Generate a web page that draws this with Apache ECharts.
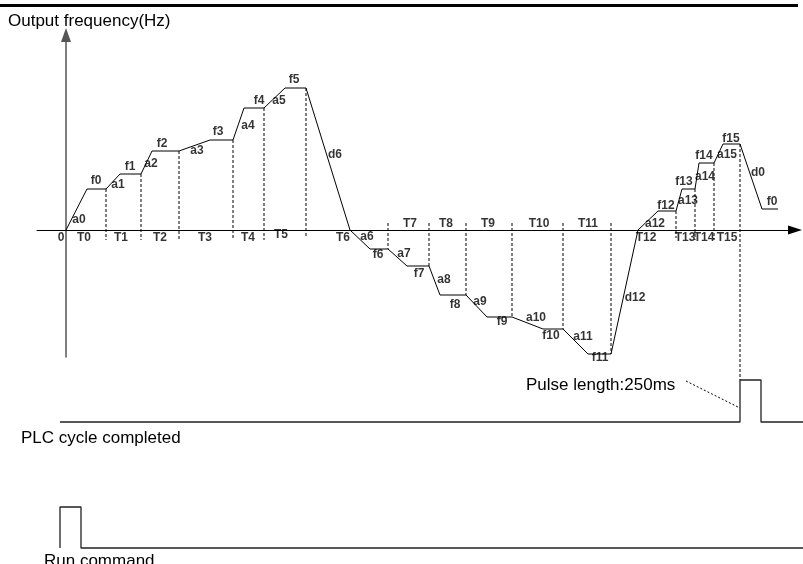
<!DOCTYPE html>
<html><head><meta charset="utf-8">
<script src="https://cdn.jsdelivr.net/npm/echarts@6/dist/echarts.min.js"></script>
<style>html,body{margin:0;padding:0;background:#fff}#c{width:803px;height:564px}</style>
</head><body><div id="c"></div>
<script>
// Output frequency profile (time units, frequency units; origin at axis crossing)
const times = [0,21,40,54,75,86,113,144,167,178,198,219,240,284,304,322,341,363,374,400,421,446,477,497,522,545,572,592,610,616,629,633,648,657,674,696,712];
const freqs = [0,41,41,56,56,79,79,90,90,122,122,142,142,0,-19,-19,-36,-36,-65,-65,-87,-87,-99,-99,-124,-124,0,19,19,41,41,67,67,86,86,21,21];

// Dashed step boundaries
const dashT      = [40,75,113,167,198,240,322,363,400,446,497,545,610,629,648,674];
const dashTop    = [41,56,79,90,122,142,7,7,7,7,7,7,19,41,67,86];
const dashBottom = [-10,-10,-10,-10,-10,-8,-19,-36,-65,-87,-99,-124,-8,-10,-10,-150];

// Segment labels
const labelText = ['0','a0','f0','a1','f1','a2','f2','a3','f3','a4','f4','a5','f5','d6',
  'T0','T1','T2','T3','T4','T5','T6','a6','f6','a7','f7','a8','f8','a9','f9','a10','f10','a11','f11','d12',
  'T7','T8','T9','T10','T11','a12','T12','f12','a13','f13','a14','f14','a15','f15','d0','f0','T13','T14','T15'];
const labelT = [-5,13,30,52,64,85,96,131,152,182,193,213,228,269,
  18,55,94,139,182,215,277,301,312,338,353,378,389,414,436,470,485,517,534,569,
  344,380,422,473,522,589,580,600,622,618,639,638,661,665,692,706,619,638,661];
const labelF = [-8,10,49,45,63,66,86,79,98,104,129,129,150,75,
  -8,-8,-8,-8,-8,-5,-8,-7,-25,-24,-44,-50,-75,-72,-92,-88,-106,-107,-128,-68,
  6,6,6,6,6,6,-8,24,29,48,53,74,75,91,57,28,-8,-8,-8];

// Digital signals (0 = low, 1 = high)
const plcT = [-6,674,674,695,695,737];
const plcV = [0,0,1,1,0,0];
const runT = [-6,-6,15,15,737];
const runV = [0,1,1,0,0];
const leaderT = [620,674];
const leaderV = [0.976,0.333];

const FONT = 'Liberation Sans';
const chart = echarts.init(document.getElementById('c'), null, {renderer:'canvas'});
const hiddenX = i => ({type:'value', gridIndex:i, min:-29, max:737, show:false});
const hiddenY = i => ({type:'value', gridIndex:i, min:0, max:1, show:false});
const zip = (a,b) => a.map((v,i)=>[v,b[i]]);

const series = [];
dashT.forEach((t,i)=>{
  series.push({type:'line', xAxisIndex:0, yAxisIndex:0, clip:false, symbol:'none', silent:true,
    data:[[t,dashTop[i]],[t,dashBottom[i]]],
    lineStyle:{color:'#000', width:1, type:[3,2]}, z:1});
});
series.push({type:'line', xAxisIndex:0, yAxisIndex:0, clip:false, symbol:'none', silent:true,
  data: zip(times,freqs), lineStyle:{color:'#000', width:1}, z:3});
series.push({type:'scatter', xAxisIndex:0, yAxisIndex:0, clip:false, symbolSize:0, silent:true,
  data: labelText.map((s,i)=>({name:s, value:[labelT[i],labelF[i]]})),
  label:{show:true, position:'inside', formatter:'{b}', color:'#000', fontFamily:FONT, fontWeight:'bold', fontSize:12}, z:4});
series.push({type:'line', xAxisIndex:1, yAxisIndex:1, clip:false, symbol:'none', silent:true,
  data: zip(plcT,plcV), lineStyle:{color:'#222', width:1.3}});
series.push({type:'line', xAxisIndex:1, yAxisIndex:1, clip:false, symbol:'none', silent:true,
  data: zip(leaderT,leaderV), lineStyle:{color:'#000', width:1, type:[2,2]}});
series.push({type:'line', xAxisIndex:2, yAxisIndex:2, clip:false, symbol:'none', silent:true,
  data: zip(runT,runV), lineStyle:{color:'#222', width:1.3}});

const tStyle = {fontSize:17, fontWeight:'normal', fontFamily:FONT, color:'#000'};
chart.setOption({
  animation:false,
  backgroundColor:'#fff',
  title:[
    {text:'Output frequency(Hz)', left:8, top:13, padding:0, textStyle:tStyle},
    {text:'PLC cycle completed', left:21, top:430, padding:0, textStyle:tStyle},
    {text:'Pulse length:250ms', left:526, top:377, padding:0, textStyle:tStyle},
    {text:'Run command', left:44, top:553, padding:0, textStyle:tStyle}
  ],
  graphic:[{type:'line', shape:{x1:0,y1:5.5,x2:798,y2:5.5}, style:{stroke:'#000', lineWidth:3}, silent:true}],
  grid:[
    {left:37, right:8, top:35, bottom:207, outerBoundsMode:'none'},
    {left:37, right:0, top:380, height:42, outerBoundsMode:'none'},
    {left:37, right:0, top:507, height:41, outerBoundsMode:'none'}
  ],
  xAxis:[
    {type:'value', gridIndex:0, min:-29, max:729,
     axisLine:{show:true, onZero:true, symbol:['none','triangle'], symbolSize:[9,14], lineStyle:{color:'#000', width:1}},
     axisTick:{show:false}, axisLabel:{show:false}, splitLine:{show:false}},
    hiddenX(1), hiddenX(2)
  ],
  yAxis:[
    {type:'value', gridIndex:0, min:-127, max:195,
     axisLine:{show:true, onZero:true, symbol:['none','triangle'], symbolSize:[10,14], lineStyle:{color:'#555', width:1.5}},
     axisTick:{show:false}, axisLabel:{show:false}, splitLine:{show:false}},
    hiddenY(1), hiddenY(2)
  ],
  series:series
});
</script></body></html>
